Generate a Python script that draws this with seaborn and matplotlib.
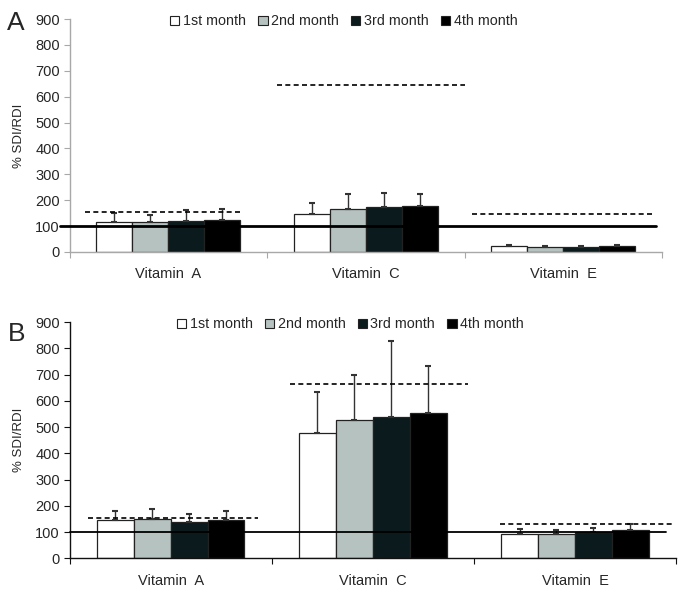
import numpy as np
import pandas as pd
import matplotlib
matplotlib.use('Agg')
import matplotlib.pyplot as plt
import matplotlib.patches as mpatches
import seaborn as sns

sns.set_style('ticks')
plt.rcParams['font.family'] = ['Liberation Sans', 'DejaVu Sans']

months = ['1st month', '2nd month', '3rd month', '4th month']
vitamins = ['Vitamin  A', 'Vitamin  C', 'Vitamin  E']
colors = ['#ffffff', '#b5c2c0', '#0b1a1c', '#000000']

# Panel A: bar heights and top of error bar (one row per vitamin, one column per month)
a_means = [[116, 116, 121, 124],
           [148, 166, 174, 176],
           [22, 21, 19, 22]]
a_tops = [[150, 144, 161, 167],
          [188, 225, 228, 223],
          [26, 24, 24, 28]]
a_rdi = [155, 646, 146]  # dashed reference lines

# Panel B
b_means = [[145, 151, 137, 144],
           [477, 528, 539, 555],
           [94, 94, 99, 107]]
b_tops = [[181, 187, 170, 181],
          [635, 697, 827, 734],
          [112, 108, 115, 130]]
b_rdi = [153, 663, 132]

# horizontal extents of the dashed lines (category units)
a_rdi_span = [(-0.42, 0.37), (0.55, 1.50), (1.54, 2.46)]
b_rdi_span = [(-0.41, 0.43), (0.59, 1.47), (1.63, 2.49)]


def draw_panel(ax, means, tops, rdi, rdi_span, base_span, base_lw, spine_color):
    df = pd.DataFrame({
        'vitamin': np.repeat(vitamins, len(months)),
        'month': months * len(vitamins),
        'value': np.ravel(means),
    })
    sns.barplot(data=df, x='vitamin', y='value', hue='month', order=vitamins,
                hue_order=months, palette=colors, saturation=1, width=0.73,
                edgecolor='#222222', linewidth=0.9, errorbar=None,
                legend=False, ax=ax)

    # upper-only error bars
    bar_groups = list(ax.containers)
    for j, cont in enumerate(bar_groups):
        xs = [p.get_x() + p.get_width() / 2 for p in cont]
        ys = [means[i][j] for i in range(len(vitamins))]
        up = [tops[i][j] - means[i][j] for i in range(len(vitamins))]
        ax.errorbar(xs, ys, yerr=[np.zeros(len(up)), up], fmt='none',
                    ecolor='#333333', elinewidth=1.0, capsize=2.5,
                    capthick=1.5, zorder=3)

    # 100% line and RDI dashed lines
    ax.plot(base_span, [100, 100], color='black', lw=base_lw, zorder=4,
            clip_on=False)
    for v, (x0, x1) in zip(rdi, rdi_span):
        ax.plot([x0, x1], [v, v], color='black', lw=1.2, ls=(0, (3, 2)),
                zorder=4, clip_on=False)

    ax.set_xlim(-0.5, 2.5)
    ax.set_ylim(0, 900)
    ax.set_yticks(range(0, 901, 100))
    ax.set_xticks([-0.5, 0.5, 1.5, 2.5])
    ax.set_xticklabels([])
    ax.set_xticks([0, 1, 2], minor=True)
    ax.set_xticklabels(vitamins, minor=True)
    ax.tick_params(axis='x', which='major', length=4, color=spine_color)
    ax.tick_params(axis='x', which='minor', length=0, pad=11, labelsize=10.5)
    ax.tick_params(axis='y', length=4, pad=3, labelsize=10.5, color=spine_color)
    ax.set_xlabel('')
    ax.set_ylabel('% SDI/RDI', fontsize=9.5, labelpad=7)
    sns.despine(ax=ax)
    for s in ['left', 'bottom']:
        ax.spines[s].set_color(spine_color)
        ax.spines[s].set_linewidth(1.0)

    handles = [mpatches.Patch(facecolor=c, edgecolor='#222222', linewidth=0.8)
               for c in colors]
    ax.legend(handles, months, ncol=4, loc='center',
              bbox_to_anchor=(0.463, 0.99), frameon=False, fontsize=10.3,
              handlelength=0.65, handleheight=0.65, handletextpad=0.25,
              columnspacing=0.85, borderaxespad=0)


fig = plt.figure(figsize=(6.85, 5.94), dpi=100)
ax_a = fig.add_axes([0.1015, 0.5758, 0.865, 0.3922])
ax_b = fig.add_axes([0.1015, 0.0601, 0.8854, 0.3978])

draw_panel(ax_a, a_means, a_tops, a_rdi, a_rdi_span, (-0.55, 2.47), 2.0,
           '#a8a8a8')
draw_panel(ax_b, b_means, b_tops, b_rdi, b_rdi_span, (-0.5, 2.45), 1.3,
           '#111111')

fig.text(0.010, 0.962, 'A', fontsize=19, va='center', ha='left')
fig.text(0.012, 0.437, 'B', fontsize=19, va='center', ha='left')

fig.savefig('out.png', dpi=100)
